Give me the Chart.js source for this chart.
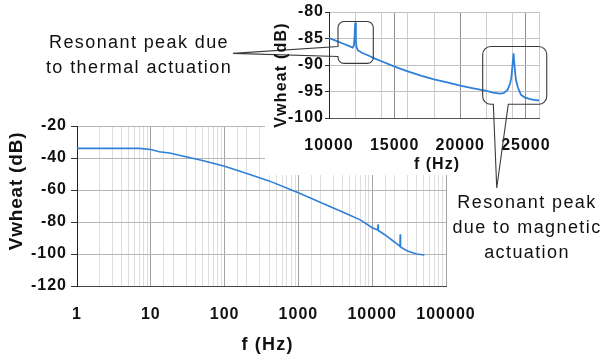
<!DOCTYPE html>
<html>
<head>
<meta charset="utf-8">
<script src="https://cdn.jsdelivr.net/npm/chart.js@4/dist/chart.umd.min.js"></script>
<style>
  html, body { margin: 0; padding: 0; background: #fff; }
  #wrap { position: relative; width: 602px; height: 358px; overflow: hidden; font-family: "Liberation Sans", Arial, sans-serif; }
  canvas { position: absolute; left: 0; top: 0; }
  .note { position: absolute; font-size: 18px; letter-spacing: 1.4px; line-height: 25px; color: #111; text-align: center; white-space: nowrap; transform: translateX(-50%); }
</style>
</head>
<body>
<div id="wrap">
  <canvas id="mainChart" width="602" height="358"></canvas>
  <canvas id="insetChart" width="602" height="358"></canvas>
  <div class="note" style="left:139px; top:30px;">Resonant peak due<br>to thermal actuation</div>
  <div class="note" style="left:527px; top:190px;">Resonant peak<br>due to magnetic<br>actuation</div>
</div>
<script>
// main plot (log f axis)
const mainFreq = [1, 3, 7, 10, 13, 18, 25, 30, 50, 100, 200, 400, 1000, 2400, 5000, 7000, 10000, 11900, 12000, 12100, 15000, 20000, 23800, 24000, 24200, 30000, 40000, 51000];
const mainDb = [-34, -34, -34, -34.7, -36.1, -36.9, -38.4, -39.2, -41.6, -45.2, -49.7, -54.3, -61.7, -69.4, -75.8, -78.8, -83.6, -85, -81.5, -85.3, -88.1, -92.5, -95.3, -87.7, -95.6, -98.1, -100, -100.6];
const mainXLabels = [1, 10, 100, 1000, 10000, 100000];

// inset (zoom on 10-26 kHz)
const insetFreq = [10000, 10500, 11000, 11500, 11800, 11900, 11950, 12000, 12050, 12100, 12200, 12500, 13000, 13500, 14000, 15000, 16000, 17000, 18000, 19000, 20000, 21000, 22000, 22500, 23000, 23300, 23600, 23800, 23900, 24000, 24060, 24120, 24240, 24400, 24620, 24900, 25250, 25600, 26000];
const insetDb = [-84.9, -85.4, -85.9, -86.4, -86.7, -86.3, -84.5, -82, -85.5, -86.7, -87.2, -87.7, -88.2, -88.8, -89.3, -90.3, -91.2, -92, -92.7, -93.3, -93.9, -94.4, -94.9, -95.2, -95.4, -95.3, -94.7, -93.5, -92.2, -89.5, -87.8, -89.8, -92.8, -94.3, -95.6, -96.1, -96.4, -96.6, -96.7];
const insetXLabels = [10000, 15000, 20000, 25000];

const fontFam = '"Liberation Sans", Arial, sans-serif';
const lineBlue = "#2f80d8";

const isDecade = (v) => Math.abs(Math.log10(v) - Math.round(Math.log10(v))) < 1e-9;

// letter spacing for the canvas text, the reference text is a bit wide
const spacingPlugin = {
  id: "spacing",
  beforeDraw(chart) {
    chart.ctx.letterSpacing = "1px";
  },
};

function axisTitles(xTitle, yTitle) {
  return {
    id: "axisTitles",
    afterDraw(chart) {
      const ctx = chart.ctx;
      const a = chart.chartArea;
      ctx.save();
      ctx.fillStyle = "#111";
      ctx.textAlign = "center";
      ctx.textBaseline = "middle";
      ctx.letterSpacing = xTitle.spacing + "px";
      ctx.font = "bold " + xTitle.size + "px " + fontFam;
      ctx.fillText(xTitle.text, (a.left + a.right) / 2 + xTitle.dx, a.bottom + xTitle.dy);
      ctx.translate(a.left + yTitle.dx, (a.top + a.bottom) / 2 + yTitle.dy);
      ctx.rotate(-Math.PI / 2);
      ctx.letterSpacing = yTitle.spacing + "px";
      ctx.font = "bold " + yTitle.size + "px " + fontFam;
      ctx.fillText(yTitle.text, 0, 0);
      ctx.restore();
    },
  };
}

new Chart(document.getElementById("mainChart"), {
  type: "line",
  data: {
    datasets: [
      {
        data: mainFreq.map((f, i) => ({ x: f, y: mainDb[i] })),
        borderColor: lineBlue,
        borderWidth: 1.6,
        pointRadius: 0,
        tension: 0,
      },
    ],
  },
  options: {
    responsive: false,
    animation: false,
    layout: { padding: { left: 0, top: 126, right: 156, bottom: 0 } },
    plugins: { legend: { display: false }, tooltip: { enabled: false } },
    scales: {
      x: {
        type: "logarithmic",
        min: 1,
        max: 100000,
        afterFit: (s) => { s.height = 72; },
        grid: {
          color: (c) => (isDecade(c.tick.value) ? "#a4a4a4" : "#dedede"),
          drawTicks: false,
        },
        border: { color: "#444" },
        ticks: {
          autoSkip: false,
          maxRotation: 0,
          padding: 19,
          color: "#111",
          font: { family: fontFam, size: 16, weight: "bold" },
          callback: (v) => (mainXLabels.some((l) => Math.abs(l - v) < 1e-6) ? String(Math.round(v)) : ""),
        },
      },
      y: {
        min: -120,
        max: -20,
        afterFit: (s) => { s.width = 77; },
        grid: { color: "#b6b6b6", tickLength: 6, tickColor: "#333" },
        border: { color: "#222" },
        ticks: {
          stepSize: 20,
          padding: 4,
          color: "#111",
          font: { family: fontFam, size: 16, weight: "bold" },
        },
      },
    },
  },
  plugins: [
    spacingPlugin,
    axisTitles(
      { text: "f (Hz)", size: 18, spacing: 1.2, dx: 6, dy: 59 },
      { text: "Vwheat (dB)", size: 19, spacing: 0.8, dx: -60, dy: -15 }
    ),
  ],
});

// callout bubbles, in inset data units
const thermalBox = { x0: 10686, x1: 13375, y0: -81.8, y1: -89.7, r: 6 };
const thermalTail = { side: "left", j0: -86.5, j1: -88.4, tipX: 2686, tipY: -87.8 };
const magneticBox = { x0: 21710, x1: 26590, y0: -86.5, y1: -97.4, r: 8 };
const magneticTail = { side: "bottom", j0: 22520, j1: 23660, tipX: 22780, tipY: -113.2 };

function bubble(ctx, xs, ys, box, tail) {
  const l = xs.getPixelForValue(box.x0), r = xs.getPixelForValue(box.x1);
  const t = ys.getPixelForValue(box.y0), b = ys.getPixelForValue(box.y1);
  const rad = box.r;
  const tipX = xs.getPixelForValue(tail.tipX), tipY = ys.getPixelForValue(tail.tipY);
  ctx.beginPath();
  if (tail.side === "left") {
    const ja = ys.getPixelForValue(tail.j0), jb = ys.getPixelForValue(tail.j1);
    ctx.moveTo(l, ja);
    ctx.arcTo(l, t, r, t, rad);
    ctx.arcTo(r, t, r, b, rad);
    ctx.arcTo(r, b, l, b, rad);
    ctx.arcTo(l, b, l, t, rad);
    ctx.lineTo(l, jb);
    ctx.lineTo(tipX, tipY);
    ctx.closePath();
  } else {
    const ja = xs.getPixelForValue(tail.j0), jb = xs.getPixelForValue(tail.j1);
    ctx.moveTo(jb, b);
    ctx.arcTo(r, b, r, t, rad);
    ctx.arcTo(r, t, l, t, rad);
    ctx.arcTo(l, t, l, b, rad);
    ctx.arcTo(l, b, r, b, rad);
    ctx.lineTo(ja, b);
    ctx.lineTo(tipX, tipY);
    ctx.closePath();
  }
  ctx.stroke();
}

const insetExtras = {
  id: "insetExtras",
  beforeDraw(chart) {
    const ctx = chart.ctx;
    ctx.save();
    ctx.fillStyle = "#fff";
    ctx.fillRect(265, 0, 337, 175);
    ctx.restore();
  },
  afterDraw(chart) {
    const ctx = chart.ctx;
    const xs = chart.scales.x, ys = chart.scales.y;
    ctx.save();
    ctx.strokeStyle = "#3a3a3a";
    ctx.lineWidth = 1.1;
    bubble(ctx, xs, ys, thermalBox, thermalTail);
    bubble(ctx, xs, ys, magneticBox, magneticTail);
    ctx.restore();
  },
};

new Chart(document.getElementById("insetChart"), {
  type: "line",
  data: {
    datasets: [
      {
        data: insetFreq.map((f, i) => ({ x: f, y: insetDb[i] })),
        borderColor: lineBlue,
        borderWidth: 1.8,
        pointRadius: 0,
        tension: 0,
      },
    ],
  },
  options: {
    responsive: false,
    animation: false,
    layout: { padding: { left: 265, top: 12, right: 63, bottom: 183 } },
    plugins: { legend: { display: false }, tooltip: { enabled: false } },
    scales: {
      x: {
        type: "linear",
        min: 10000,
        max: 26000,
        afterFit: (s) => { s.height = 57; },
        grid: {
          color: (c) => {
            const v = c.tick.value;
            if (v % 5000 === 0) return "#8e8e8e";
            if (v % 2000 === 0) return "#cdcdcd";
            return "rgba(0,0,0,0)";
          },
          drawTicks: false,
        },
        border: { color: "#555" },
        ticks: {
          stepSize: 1000,
          autoSkip: false,
          maxRotation: 0,
          padding: 18,
          color: "#111",
          font: { family: fontFam, size: 16, weight: "bold" },
          callback: (v) => (insetXLabels.includes(v) ? String(v) : ""),
        },
      },
      y: {
        min: -100,
        max: -80,
        afterFit: (s) => { s.width = 64; },
        grid: { color: "#c2c2c2", tickLength: 4, tickColor: "#333" },
        border: { color: "#222" },
        ticks: {
          stepSize: 5,
          padding: 1,
          color: "#111",
          font: { family: fontFam, size: 16, weight: "bold" },
        },
      },
    },
  },
  plugins: [
    spacingPlugin,
    insetExtras,
    axisTitles(
      { text: "f (Hz)", size: 16, spacing: 1, dx: 3, dy: 47 },
      { text: "Vwheat (dB)", size: 16, spacing: 1.2, dx: -47, dy: 10 }
    ),
  ],
});
</script>
</body>
</html>
